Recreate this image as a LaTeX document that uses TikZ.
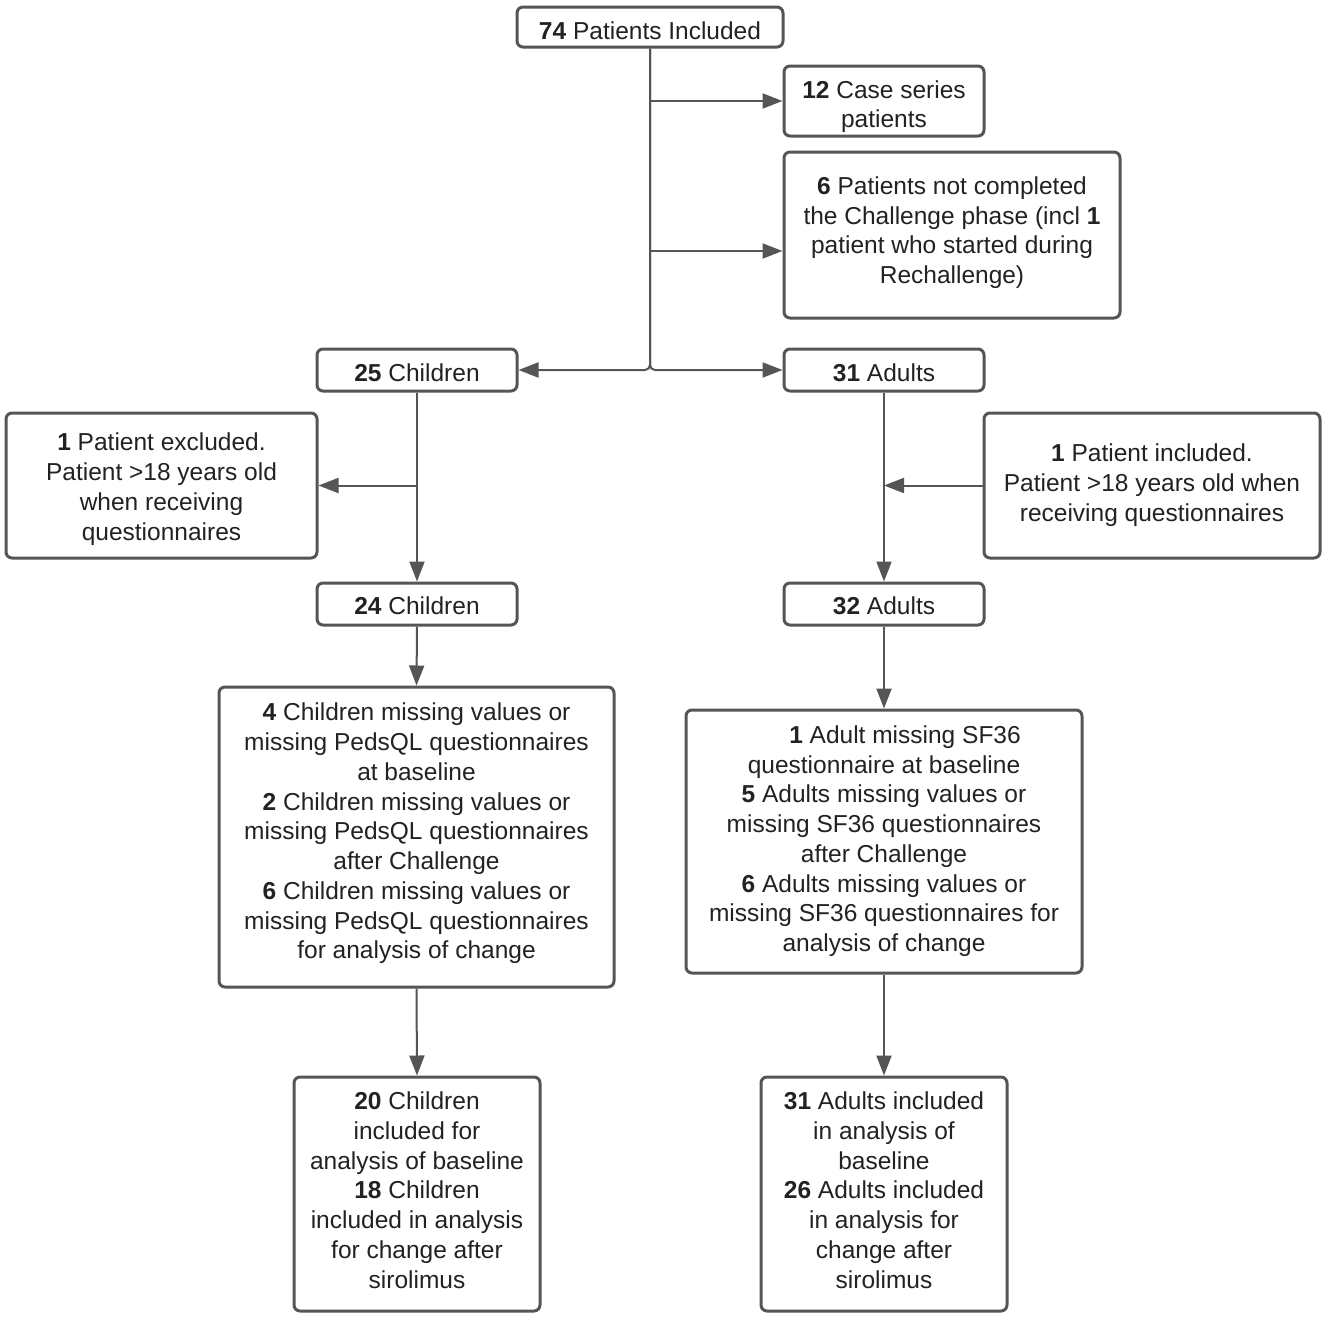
\documentclass[tikz,border=0pt]{standalone}
\usepackage{fontspec}
\setmainfont{Liberation Sans}
\usetikzlibrary{arrows.meta}
\definecolor{boxc}{HTML}{555555}
\definecolor{linec}{HTML}{555555}
\definecolor{txt}{HTML}{222222}
\newcommand{\tl}[2]{\raisebox{#1}[\height][\depth]{\begin{tabular}{@{}c@{}}#2\end{tabular}}}
\begin{document}
\begin{tikzpicture}[x=1pt,y=-1pt,
  box/.style={draw=boxc, line width=3pt, rounded corners=6pt, align=center,
    text=txt, inner sep=0pt, font=\fontsize{24.5}{29.75}\selectfont},
  arr/.style={draw=linec, line width=2pt, -{Triangle[length=20pt,width=15pt]}}]
\useasboundingbox (0,0) rectangle (1325,1317);
\fill[white] (0,0) rectangle (1325,1317);
\node[box, minimum width=266pt, minimum height=40pt] (top) at (650,27) {\tl{-6.5pt}{\textbf{74} Patients Included}};
\node[box, minimum width=200pt, minimum height=70pt] (case) at (884,101) {\tl{-6pt}{\textbf{12} Case series\\patients}};
\node[box, minimum width=336pt, minimum height=166pt] (six) at (952,235) {\tl{2pt}{\textbf{6} Patients not completed\\the Challenge phase (incl \textbf{1}\\patient who started during\\Rechallenge)}};
\node[box, minimum width=200pt, minimum height=42pt] (c25) at (417,370) {\tl{-5.5pt}{\textbf{25} Children}};
\node[box, minimum width=200pt, minimum height=42pt] (a31) at (884,370) {\tl{-5.5pt}{\textbf{31} Adults}};
\node[box, minimum width=311pt, minimum height=145pt] (excl) at (161.5,485.5) {\tl{-4pt}{\textbf{1} Patient excluded.\\Patient >18 years old\\when receiving\\questionnaires}};
\node[box, minimum width=336pt, minimum height=145pt] (incl) at (1152,485.5) {\tl{0pt}{\textbf{1} Patient included.\\Patient >18 years old when\\receiving questionnaires}};
\node[box, minimum width=200pt, minimum height=42pt] (c24) at (417,604) {\tl{-5pt}{\textbf{24} Children}};
\node[box, minimum width=200pt, minimum height=42pt] (a32) at (884,604) {\tl{-5pt}{\textbf{32} Adults}};
\node[box, minimum width=395pt, minimum height=300pt] (cmiss) at (416.5,837) {\tl{3pt}{\textbf{4} Children missing values or\\missing PedsQL questionnaires\\at baseline\\\textbf{2} Children missing values or\\missing PedsQL questionnaires\\after Challenge\\\textbf{6} Children missing values or\\missing PedsQL questionnaires\\for analysis of change}};
\node[box, minimum width=396pt, minimum height=263pt] (amiss) at (884,841.5) {\tl{0pt}{\hspace*{42pt}\textbf{1} Adult missing SF36\\questionnaire at baseline\\\textbf{5} Adults missing values or\\missing SF36 questionnaires\\after Challenge\\\textbf{6} Adults missing values or\\missing SF36 questionnaires for\\analysis of change}};
\node[box, minimum width=246pt, minimum height=234pt] (c20) at (417,1194) {\tl{1pt}{\textbf{20} Children\\included for\\analysis of baseline\\\textbf{18} Children\\included in analysis\\for change after\\sirolimus}};
\node[box, minimum width=246pt, minimum height=234pt] (a31i) at (884,1194) {\tl{1pt}{\textbf{31} Adults included\\in analysis of\\baseline\\\textbf{26} Adults included\\in analysis for\\change after\\sirolimus}};
\coordinate (sixin) at ([yshift=-16pt]six.west);
% connectors
\draw[arr, rounded corners=5pt] (top.south) |- (c25.east);
\draw[arr, rounded corners=5pt] (top.south) |- (a31.west);
\draw[arr] (top.south |- case.west) -- (case.west);
\draw[arr] (top.south |- sixin) -- (sixin);
\draw[arr] (c25.south) -- (c24.north);
\draw[arr] (c25.south |- excl.east) -- (excl.east);
\draw[arr] (a31.south) -- (a32.north);
\draw[arr] (incl.west) -- (a31.south |- incl.west);
\draw[arr] (c24.south) -- (cmiss.north);
\draw[arr] (a32.south) -- (amiss.north);
\draw[arr] (cmiss.south) -- (c20.north);
\draw[arr] (amiss.south) -- (a31i.north);
\end{tikzpicture}
\end{document}
